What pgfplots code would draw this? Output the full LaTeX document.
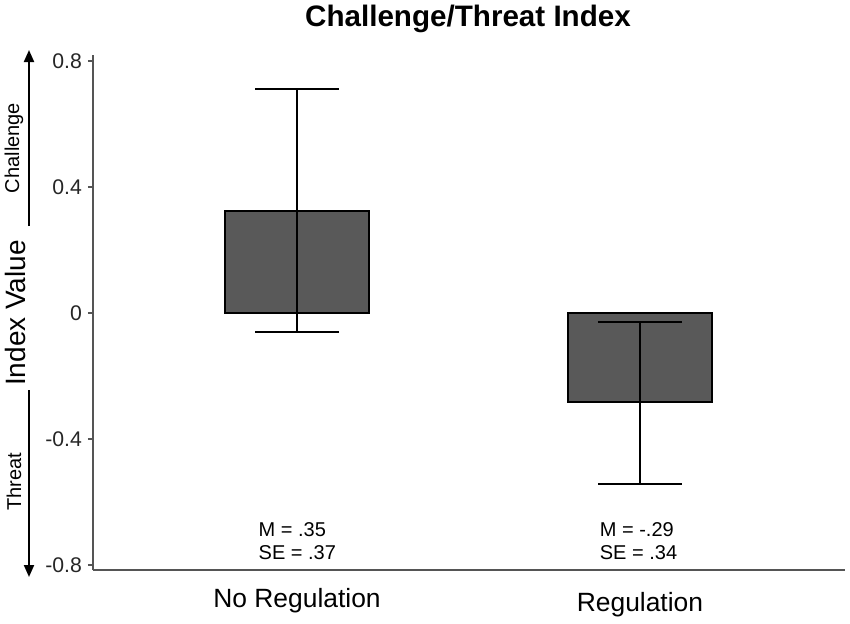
\documentclass[border=0pt]{standalone}
\usepackage{pgfplots}
\pgfplotsset{compat=1.18}
\usepackage{fontspec}
\setmainfont{Liberation Sans}
\usetikzlibrary{arrows.meta}
\definecolor{barfill}{HTML}{595959}
\definecolor{axgray}{HTML}{555555}
\begin{document}
\begin{tikzpicture}[x=0.5pt,y=0.5pt]
% bounding box: image px (X,Y) -> ((X-93), (570-Y)) in 0.5pt units
\path[use as bounding box] (-93,-53) rectangle (757,570);
\begin{axis}[
  at={(0,0)}, anchor=south west,
  scale only axis,
  width=376pt, height=257.5pt,
  xmin=-0.595, xmax=1.598,
  ymin=-0.816, ymax=0.819,
  axis lines*=left,
  axis line style={axgray, line width=0.8pt},
  xtick={0,1},
  xticklabels={No Regulation,\raisebox{-2pt}[\height][\depth]{Regulation}},
  xtick style={draw=none},
  xticklabel style={font=\fontsize{13.2}{15}\selectfont, yshift=-3pt},
  ytick={-0.8,-0.4,0,0.4,0.8},
  yticklabels={-0.8,-0.4,0,0.4,0.8},
  ytick style={axgray, line width=0.8pt},
  tick align=outside,
  major tick length=2.5pt,
  yticklabel style={font=\fontsize{10.6}{12}\selectfont, text=black!85, xshift=0.5pt},
  /pgf/number format/assume math mode=true,
  clip=false,
]
\addplot[ybar, bar width=72pt, fill=barfill, draw=black, line width=0.75pt,
  error bars/.cd, y dir=both, y explicit,
  error bar style={black, line width=0.75pt},
  error mark options={rotate=90, mark size=21pt, line width=0.75pt, black}]
  coordinates {
    (0,0.324) += (0,0.387) -= (0,0.384)
    (1,-0.283) += (0,0.254) -= (0,0.260)
  };
\node[anchor=west, align=left, font=\fontsize{10}{11.5}\selectfont, inner sep=0pt]
  at (axis cs:-0.113,-0.724) {M = .35\\SE = .37};
\node[anchor=west, align=left, font=\fontsize{10}{11.5}\selectfont, inner sep=0pt]
  at (axis cs:0.882,-0.724) {M = -.29\\SE = .34};
\end{axis}
% title
\node[font=\bfseries\fontsize{14.8}{17}\selectfont] at (375,551) {Challenge/Threat Index};
% y label
\node[rotate=90, font=\fontsize{14}{16}\selectfont] at (-78,257) {Index Value};
% arrows
\draw[line width=1pt, -{Triangle[length=6pt,width=5pt]}] (-64,344) -- (-64,520);
\draw[line width=1pt, -{Triangle[length=6pt,width=5pt]}] (-64,180) -- (-64,-7);
\node[rotate=90, font=\fontsize{10}{12}\selectfont] at (-79,422) {Challenge};
\node[rotate=90, font=\fontsize{10}{12}\selectfont] at (-79,88) {Threat};
\end{tikzpicture}
\end{document}
